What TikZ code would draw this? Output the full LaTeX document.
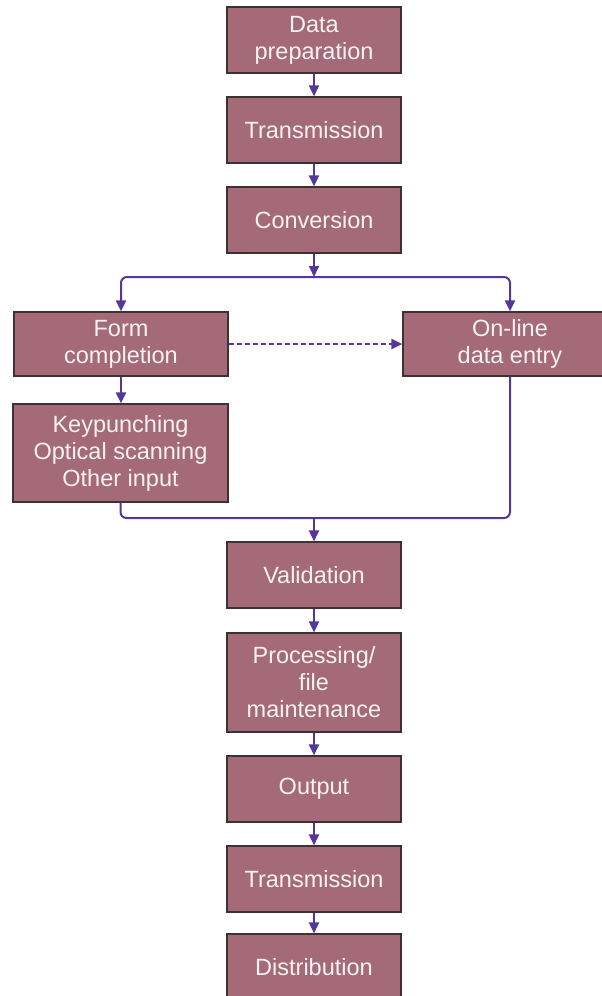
\documentclass[tikz,border=0pt]{standalone}
\usepackage{fontspec}
\setmainfont{Liberation Sans}
\usetikzlibrary{arrows.meta,positioning,calc}

\definecolor{boxfill}{HTML}{A56A77}
\definecolor{boxedge}{HTML}{3C3236}
\definecolor{flow}{HTML}{55379C}
\definecolor{boxtext}{HTML}{F8F2F4}

\tikzset{
  stage/.style={draw=boxedge, line width=1.2pt, fill=boxfill, text=boxtext,
    align=center, inner sep=0pt,
    font=\fontsize{23.5}{27}\selectfont},
  midbox/.style={stage, minimum width=174pt, minimum height=66pt},
  sidebox/.style={stage, minimum width=214pt, minimum height=64pt},
  flowline/.style={draw=flow, line width=2pt, rounded corners=6pt},
  flowarrow/.style={flowline, -{Triangle[length=11pt,width=10pt]}},
  dashedarrow/.style={flowarrow, dashed, dash pattern=on 5pt off 3pt}
}

\begin{document}
\begin{tikzpicture}[x=1pt,y=-1pt]
  \useasboundingbox (0,0) rectangle (602,996);
  \clip (0,0) rectangle (602,996);

  % main column of stages
  \node[midbox] (prep)   at (314,40)    {Data\\preparation};
  \node[midbox] (trans1) at (314,130)   {Transmission};
  \node[midbox] (conv)   at (314,220)   {Conversion};

  % the two input routes
  \node[sidebox] (form)   at (121,344) {Form\\completion};
  \node[sidebox] (online) at (510,344) {On-line\\data entry};
  \node[stage, minimum width=215pt, minimum height=98pt] (keys) at (120.5,453)
        {Keypunching\\Optical scanning\\Other input};

  % rest of the column
  \node[midbox] (valid)  at (314,575)   {Validation};
  \node[midbox, minimum height=99pt] (proc) at (314,682.5) {Processing/\\file\\maintenance};
  \node[midbox] (out)    at (314,789)   {Output};
  \node[midbox] (trans2) at (314,879)   {Transmission};
  \node[midbox] (dist)   at (314,967)   {Distribution};

  % junction points
  \coordinate (split) at (314,277);
  \coordinate (merge) at (314,518);

  % connectors
  \draw[flowarrow] (prep.south) -- (trans1.north);
  \draw[flowarrow] (trans1.south) -- (conv.north);
  \draw[flowarrow] (conv.south) -- (split);
  \draw[flowarrow] (split) -| (form.north);
  \draw[flowarrow] (split) -| (online.north);
  \draw[dashedarrow] (form.east) -- (online.west);
  \draw[flowarrow] (form.south) -- (form.south |- keys.north);
  \draw[flowline] (keys.south) |- (merge) -| (online.south);
  \draw[flowarrow] (merge) -- (valid.north);
  \draw[flowarrow] (valid.south) -- (proc.north);
  \draw[flowarrow] (proc.south) -- (out.north);
  \draw[flowarrow] (out.south) -- (trans2.north);
  \draw[flowarrow] (trans2.south) -- (dist.north);
\end{tikzpicture}
\end{document}
